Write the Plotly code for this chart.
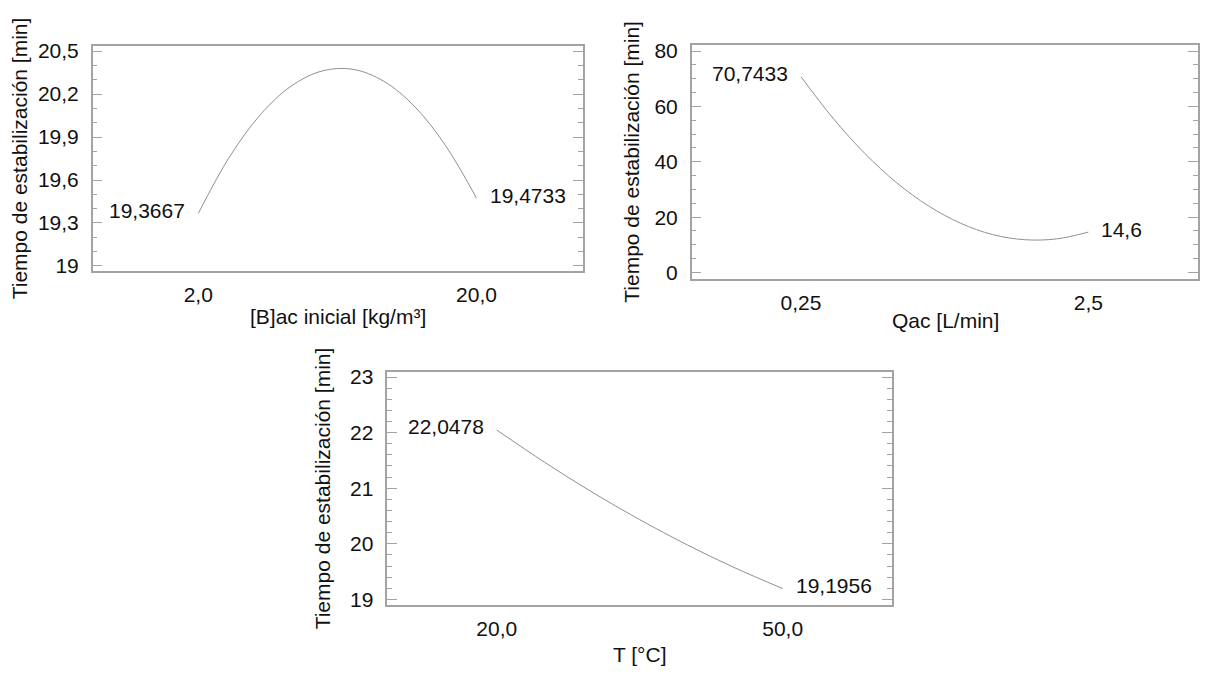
import plotly.graph_objects as go

W, H = 1209, 675

# Panel 1: initial biomass concentration
conc_x = [2, 4, 6, 8, 10, 12, 14, 16, 18, 20]
conc_y = [19.3667, 19.758, 20.054, 20.255, 20.361, 20.373, 20.290, 20.113, 19.840, 19.4733]
conc_ticks = [2, 20]
conc_ticktext = ["2,0", "20,0"]

# Panel 2: flow rate
flow_x = [0.25, 0.5, 0.75, 1.0, 1.25, 1.5, 1.75, 2.0, 2.25, 2.5]
flow_y = [70.7433, 55.8, 43.0, 32.4, 24.0, 17.8, 13.7, 11.85, 12.13, 14.6]
flow_ticks = [0.25, 2.5]
flow_ticktext = ["0,25", "2,5"]

# Panel 3: temperature
temp_x = [20, 25, 30, 35, 40, 45, 50]
temp_y = [22.0478, 21.469, 20.931, 20.435, 19.980, 19.567, 19.1956]
temp_ticks = [20, 50]
temp_ticktext = ["20,0", "50,0"]

y_title = "Tiempo de estabilización [min]"
x_titles = ["[B]ac inicial [kg/m³]", "Qac [L/min]", "T [°C]"]
end_labels = [("19,3667", "19,4733"), ("70,7433", "14,6"), ("22,0478", "19,1956")]

FONT = "Arial, 'Liberation Sans', sans-serif"
FS = 21
FRAME = "#a3a3a3"
CURVE = "#8f8f8f"
TXT = "#111"

# plot boxes in pixels: (left, right, top, bottom)
boxes = [(92.7, 582.7, 39.3, 269.3), (691.7, 1198.3, 38.3, 277.3), (387.3, 892.3, 372.3, 609.3)]
xranges = [[-4.83, 26.87], [-0.606, 3.361], [8.52, 61.5]]
yranges = [[18.964, 20.539], [-2.34, 82.37], [18.908, 23.088]]
ydticks = [(19, 0.3, 0.1), (0, 20, 5), (19, 1, 0.2)]
ytitle_x = [19, 632, 322]
xtitle_y = [316, 320, 660]

series = [(conc_x, conc_y, conc_ticks, conc_ticktext),
          (flow_x, flow_y, flow_ticks, flow_ticktext),
          (temp_x, temp_y, temp_ticks, temp_ticktext)]

fig = go.Figure()
annotations = []
layout = {}


def tick_style(t0, dt, mdt):
    return dict(tickmode="linear", tick0=t0, dtick=dt,
                ticks="inside", ticklen=10, tickcolor=FRAME, tickwidth=1,
                minor=dict(tick0=t0, dtick=mdt, ticks="inside", ticklen=5,
                           tickcolor=FRAME, tickwidth=1),
                showgrid=False, zeroline=False)


for i, ((xs, ys, tv, tt), (l, r, t, b)) in enumerate(zip(series, boxes)):
    n = "" if i == 0 else str(i + 1)
    xa, ya = "x" + n, "y" + n
    ya_r = "y" + str(i + 4)          # right-hand twin axis carrying the mirrored ticks
    fig.add_trace(go.Scatter(x=xs, y=ys, mode="lines", xaxis=xa, yaxis=ya,
                             line=dict(color=CURVE, width=1, shape="spline"),
                             showlegend=False, hoverinfo="skip"))
    fig.add_trace(go.Scatter(x=xs, y=ys, mode="lines", xaxis=xa, yaxis=ya_r,
                             line=dict(color="rgba(0,0,0,0)", width=0),
                             showlegend=False, hoverinfo="skip"))
    t0, dt, mdt = ydticks[i]
    layout["xaxis" + n] = dict(
        domain=[l / W, r / W], range=xranges[i], anchor=ya,
        tickmode="array", tickvals=tv, ticktext=tt, ticks="",
        showline=True, mirror=True, linecolor=FRAME, linewidth=1.5,
        showgrid=False, zeroline=False, ticklabelstandoff=4,
        tickfont=dict(family=FONT, size=FS, color=TXT))
    layout["yaxis" + n] = dict(
        domain=[1 - b / H, 1 - t / H], range=yranges[i], anchor=xa,
        showline=True, mirror=True, linecolor=FRAME, linewidth=1.5,
        ticklabelstandoff=8,
        tickfont=dict(family=FONT, size=FS, color=TXT),
        **tick_style(t0, dt, mdt))
    layout["yaxis" + str(i + 4)] = dict(
        overlaying=ya, side="right", anchor=xa, range=yranges[i],
        showline=False, showticklabels=False,
        **tick_style(t0, dt, mdt))

    # end-point value labels
    lt, rt = end_labels[i]
    annotations.append(dict(x=xs[0], y=ys[0], xref=xa, yref=ya, text=lt, showarrow=False,
                            xanchor="right", yanchor="middle", xshift=-11, yshift=3,
                            font=dict(family=FONT, size=FS, color=TXT)))
    annotations.append(dict(x=xs[-1], y=ys[-1], xref=xa, yref=ya, text=rt, showarrow=False,
                            xanchor="left", yanchor="middle", xshift=11, yshift=3,
                            font=dict(family=FONT, size=FS, color=TXT)))
    # axis titles
    annotations.append(dict(x=ytitle_x[i] / W, y=1 - (t + b) / 2 / H, xref="paper", yref="paper",
                            text=y_title, textangle=-90, showarrow=False,
                            xanchor="center", yanchor="middle",
                            font=dict(family=FONT, size=FS, color=TXT)))
    annotations.append(dict(x=(l + r) / 2 / W, y=1 - xtitle_y[i] / H, xref="paper", yref="paper",
                            text=x_titles[i], showarrow=False,
                            xanchor="center", yanchor="middle",
                            font=dict(family=FONT, size=FS, color=TXT)))

fig.update_layout(width=W, height=H, margin=dict(l=0, r=0, t=0, b=0),
                  paper_bgcolor="white", plot_bgcolor="white",
                  separators=", ", annotations=annotations, **layout)

fig.write_html("out.html")
